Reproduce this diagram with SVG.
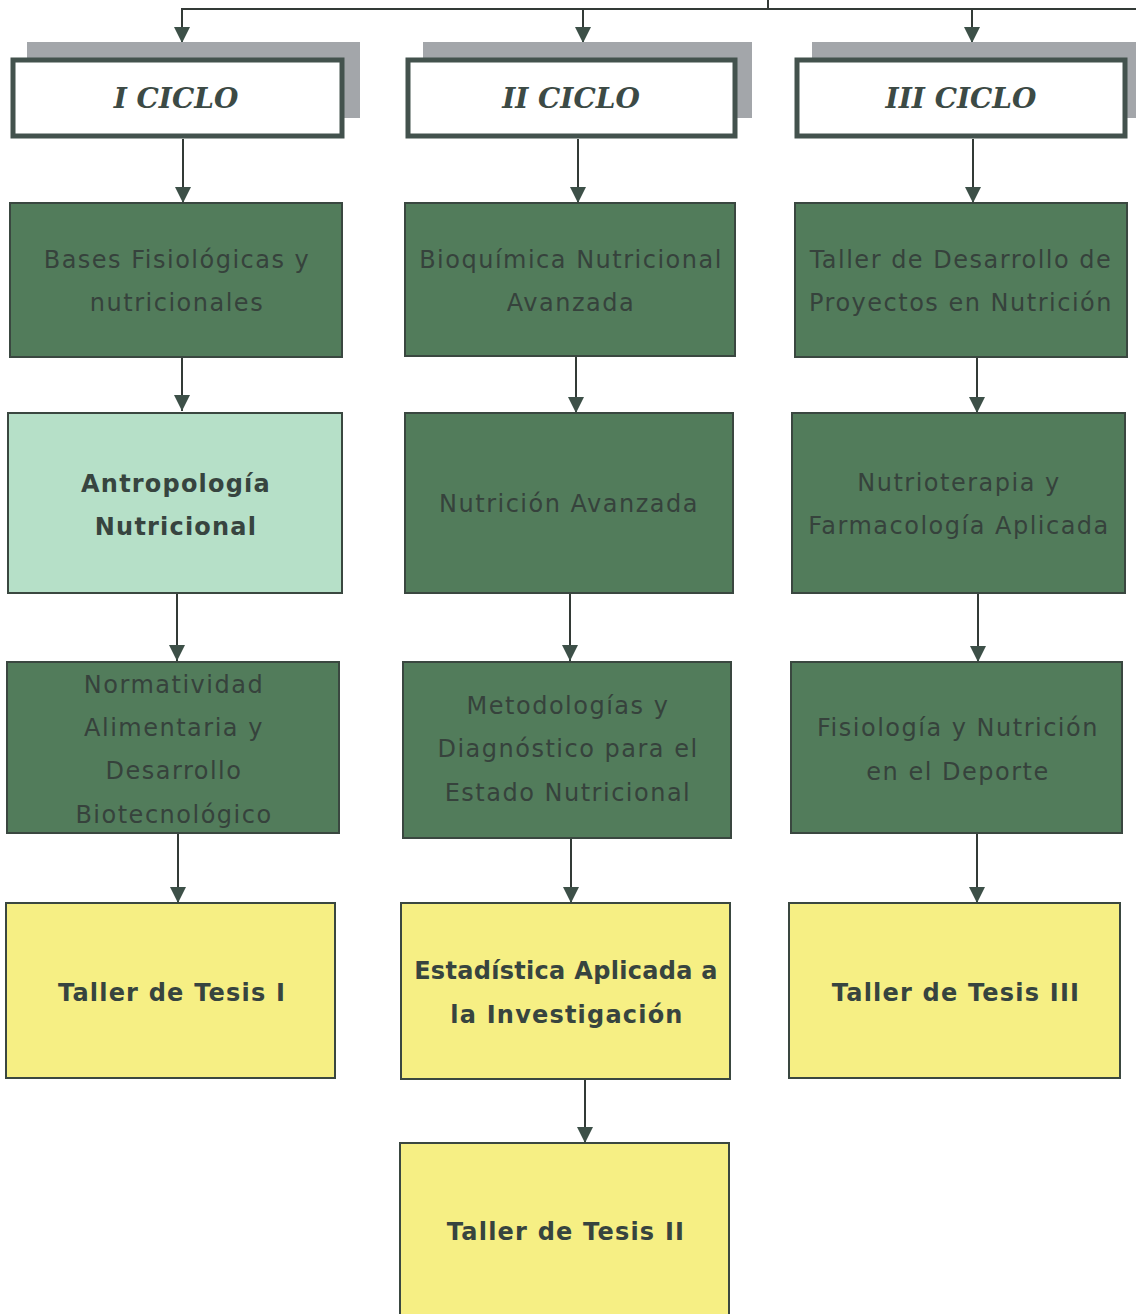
<svg xmlns="http://www.w3.org/2000/svg" width="1136" height="1314" viewBox="0 0 1136 1314">
<defs>
<style>
.shadow{fill:#a3a6aa;}
.cyc{fill:#ffffff;stroke:#43524d;stroke-width:5;}
.dk{fill:#527c5b;stroke:#3a4740;stroke-width:2;}
.lt{fill:#b6e0c8;stroke:#3a4740;stroke-width:2;}
.yl{fill:#f6ef84;stroke:#3a4740;stroke-width:2;}
.title{font-family:"DejaVu Serif",serif;font-style:italic;font-weight:bold;font-size:28px;fill:#3c4a45;text-anchor:middle;}
.t{font-family:"DejaVu Sans",sans-serif;font-size:24px;letter-spacing:1.5px;fill:#36423c;text-anchor:middle;}
.b{font-family:"DejaVu Sans",sans-serif;font-size:24px;letter-spacing:1.2px;font-weight:bold;fill:#37443f;text-anchor:middle;}
.c{stroke:#333a36;stroke-width:2;fill:none;}
</style>
<marker id="ah" viewBox="0 0 16 16" refX="16" refY="8" markerWidth="16" markerHeight="16" markerUnits="userSpaceOnUse" orient="auto">
<path d="M0,0 L16,8 L0,16 z" fill="#3d5048"/>
</marker>
</defs>
<rect width="1136" height="1314" fill="#ffffff"/>

<g id="connectors">
<path class="c" d="M768,0 V9"/>
<path class="c" d="M181,9 H1136"/>
<path class="c" d="M182,9 V43" marker-end="url(#ah)"/>
<path class="c" d="M583,9 V43" marker-end="url(#ah)"/>
<path class="c" d="M972,9 V43" marker-end="url(#ah)"/>
<path class="c" d="M183,139 V203" marker-end="url(#ah)"/>
<path class="c" d="M182,357 V411" marker-end="url(#ah)"/>
<path class="c" d="M177,593 V661" marker-end="url(#ah)"/>
<path class="c" d="M178,833 V903" marker-end="url(#ah)"/>
<path class="c" d="M578,139 V203" marker-end="url(#ah)"/>
<path class="c" d="M576,357 V413" marker-end="url(#ah)"/>
<path class="c" d="M570,593 V661" marker-end="url(#ah)"/>
<path class="c" d="M571,838 V903" marker-end="url(#ah)"/>
<path class="c" d="M585,1079 V1143" marker-end="url(#ah)"/>
<path class="c" d="M973,139 V203" marker-end="url(#ah)"/>
<path class="c" d="M977,357 V413" marker-end="url(#ah)"/>
<path class="c" d="M978,593 V662" marker-end="url(#ah)"/>
<path class="c" d="M977,833 V903" marker-end="url(#ah)"/>
</g>

<g id="ciclo1">
<rect class="shadow" x="27" y="42" width="333" height="76"/>
<rect class="cyc" x="13" y="60" width="329" height="76"/>
<text class="title" x="176" y="108">I CICLO</text>
</g>
<g id="ciclo2">
<rect class="shadow" x="423" y="42" width="329" height="76"/>
<rect class="cyc" x="408" y="60" width="327" height="76"/>
<text class="title" x="571" y="108">II CICLO</text>
</g>
<g id="ciclo3">
<rect class="shadow" x="812" y="42" width="330" height="76"/>
<rect class="cyc" x="797" y="60" width="328" height="76"/>
<text class="title" x="961" y="108">III CICLO</text>
</g>

<g id="bases">
<rect class="dk" x="10" y="203" width="332" height="154"/>
<text class="t" x="177" y="268">Bases Fisiológicas y</text>
<text class="t" x="177" y="311">nutricionales</text>
</g>
<g id="antropologia">
<rect class="lt" x="8" y="413" width="334" height="180"/>
<text class="b" x="176" y="492">Antropología</text>
<text class="b" x="176" y="535">Nutricional</text>
</g>
<g id="normatividad">
<rect class="dk" x="7" y="662" width="332" height="171"/>
<text class="t" x="174" y="693">Normatividad</text>
<text class="t" x="174" y="736">Alimentaria y</text>
<text class="t" x="174" y="779">Desarrollo</text>
<text class="t" x="174" y="823">Biotecnológico</text>
</g>
<g id="tesis1">
<rect class="yl" x="6" y="903" width="329" height="175"/>
<text class="b" x="172" y="1001">Taller de Tesis I</text>
</g>

<g id="bioquimica">
<rect class="dk" x="405" y="203" width="330" height="153"/>
<text class="t" x="571" y="268">Bioquímica Nutricional</text>
<text class="t" x="571" y="311">Avanzada</text>
</g>
<g id="nutricion">
<rect class="dk" x="405" y="413" width="328" height="180"/>
<text class="t" x="569" y="512">Nutrición Avanzada</text>
</g>
<g id="metodologias">
<rect class="dk" x="403" y="662" width="328" height="176"/>
<text class="t" x="568" y="714">Metodologías y</text>
<text class="t" x="568" y="757">Diagnóstico para el</text>
<text class="t" x="568" y="801">Estado Nutricional</text>
</g>
<g id="estadistica">
<rect class="yl" x="401" y="903" width="329" height="176"/>
<text class="b" x="566" y="979" style="letter-spacing:0.3px">Estadística Aplicada a</text>
<text class="b" x="567" y="1023">la Investigación</text>
</g>
<g id="tesis2">
<rect class="yl" x="400" y="1143" width="329" height="175"/>
<text class="b" x="566" y="1240">Taller de Tesis II</text>
</g>

<g id="taller-desarrollo">
<rect class="dk" x="795" y="203" width="332" height="154"/>
<text class="t" x="961" y="268">Taller de Desarrollo de</text>
<text class="t" x="961" y="311">Proyectos en Nutrición</text>
</g>
<g id="nutrioterapia">
<rect class="dk" x="792" y="413" width="333" height="180"/>
<text class="t" x="959" y="491">Nutrioterapia y</text>
<text class="t" x="959" y="534">Farmacología Aplicada</text>
</g>
<g id="fisiologia">
<rect class="dk" x="791" y="662" width="331" height="171"/>
<text class="t" x="958" y="736">Fisiología y Nutrición</text>
<text class="t" x="958" y="780">en el Deporte</text>
</g>
<g id="tesis3">
<rect class="yl" x="789" y="903" width="331" height="175"/>
<text class="b" x="956" y="1001">Taller de Tesis III</text>
</g>
</svg>
